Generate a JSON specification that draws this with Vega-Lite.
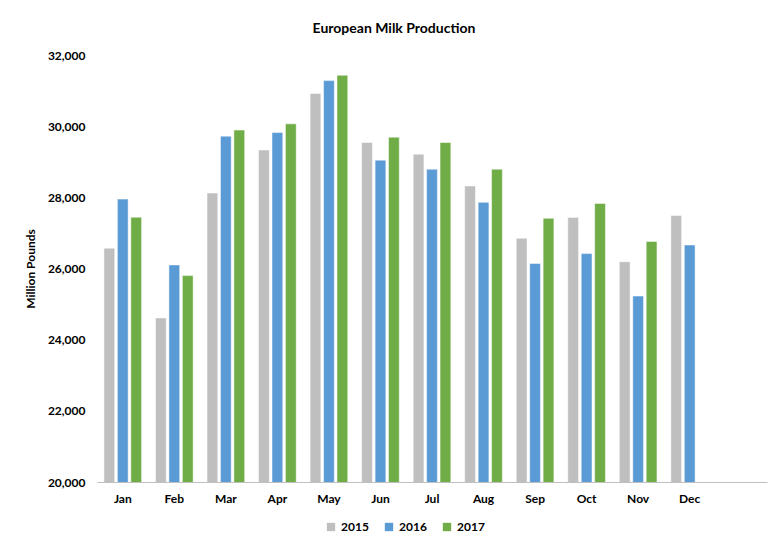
{
  "$schema": "https://vega.github.io/schema/vega-lite/v6.json",
  "width": 670,
  "height": 427,
  "autosize": {"type": "none"},
  "padding": {"left": 97, "top": 55, "right": 10, "bottom": 63},
  "background": "white",
  "title": {"text": "European Milk Production", "font": "Lato", "fontSize": 14, "fontWeight": "bold", "color": "#000000", "anchor": "middle", "dx": -38, "offset": 13},
  "data": {"values": [
    {"month": "Jan", "year": "2015", "value": 26570},
    {"month": "Jan", "year": "2016", "value": 27950},
    {"month": "Jan", "year": "2017", "value": 27440},
    {"month": "Feb", "year": "2015", "value": 24610},
    {"month": "Feb", "year": "2016", "value": 26100},
    {"month": "Feb", "year": "2017", "value": 25800},
    {"month": "Mar", "year": "2015", "value": 28120},
    {"month": "Mar", "year": "2016", "value": 29720},
    {"month": "Mar", "year": "2017", "value": 29890},
    {"month": "Apr", "year": "2015", "value": 29330},
    {"month": "Apr", "year": "2016", "value": 29820},
    {"month": "Apr", "year": "2017", "value": 30065},
    {"month": "May", "year": "2015", "value": 30920},
    {"month": "May", "year": "2016", "value": 31280},
    {"month": "May", "year": "2017", "value": 31430},
    {"month": "Jun", "year": "2015", "value": 29540},
    {"month": "Jun", "year": "2016", "value": 29045},
    {"month": "Jun", "year": "2017", "value": 29690},
    {"month": "Jul", "year": "2015", "value": 29210},
    {"month": "Jul", "year": "2016", "value": 28790},
    {"month": "Jul", "year": "2017", "value": 29540},
    {"month": "Aug", "year": "2015", "value": 28320},
    {"month": "Aug", "year": "2016", "value": 27860},
    {"month": "Aug", "year": "2017", "value": 28790},
    {"month": "Sep", "year": "2015", "value": 26850},
    {"month": "Sep", "year": "2016", "value": 26140},
    {"month": "Sep", "year": "2017", "value": 27410},
    {"month": "Oct", "year": "2015", "value": 27435},
    {"month": "Oct", "year": "2016", "value": 26420},
    {"month": "Oct", "year": "2017", "value": 27830},
    {"month": "Nov", "year": "2015", "value": 26190},
    {"month": "Nov", "year": "2016", "value": 25225},
    {"month": "Nov", "year": "2017", "value": 26760},
    {"month": "Dec", "year": "2015", "value": 27490},
    {"month": "Dec", "year": "2016", "value": 26660}
  ]},
  "mark": {"type": "bar", "clip": true, "stroke": "#ffffff", "strokeWidth": 0.8, "strokeOpacity": 0.6},
  "encoding": {
    "x": {
      "field": "month", "type": "nominal",
      "scale": {"domain": ["Jan", "Feb", "Mar", "Apr", "May", "Jun", "Jul", "Aug", "Sep", "Oct", "Nov", "Dec", "_"], "paddingInner": 0.27, "paddingOuter": 0.135},
      "axis": {"title": null, "labelAngle": 0, "labelFont": "Lato", "labelFontSize": 12, "labelFontWeight": "bold", "labelColor": "#000000", "labelPadding": 11, "ticks": false, "domainColor": "#bfbfbf", "domainWidth": 1.2, "labelExpr": "datum.value == '_' ? '' : datum.value"}
    },
    "xOffset": {"field": "year", "type": "nominal", "scale": {"paddingInner": 0.2}},
    "y": {
      "field": "value", "type": "quantitative",
      "scale": {"domain": [20000, 32000], "zero": false},
      "axis": {"title": "Million Pounds", "titleFont": "Lato", "titleFontSize": 12, "titleFontWeight": "bold", "titleColor": "#000000", "titlePadding": 10, "labelFont": "Lato", "labelFontSize": 12, "labelFontWeight": "bold", "labelColor": "#000000", "labelPadding": 12, "values": [20000, 22000, 24000, 26000, 28000, 30000, 32000], "format": ",.0f", "ticks": false, "domain": false, "grid": false}
    },
    "color": {
      "field": "year", "type": "nominal",
      "scale": {"domain": ["2015", "2016", "2017"], "range": ["#bfbfbf", "#5b9bd5", "#70ad47"]},
      "legend": {"title": null, "orient": "none", "direction": "horizontal", "legendX": 228, "legendY": 466, "symbolType": "square", "symbolSize": 70, "symbolStrokeWidth": 0, "symbolOpacity": 1, "labelFont": "Lato", "labelFontSize": 12, "labelFontWeight": "bold", "labelColor": "#000000", "columnPadding": 14, "labelOffset": 4}
    }
  },
  "config": {"view": {"stroke": null}}
}
